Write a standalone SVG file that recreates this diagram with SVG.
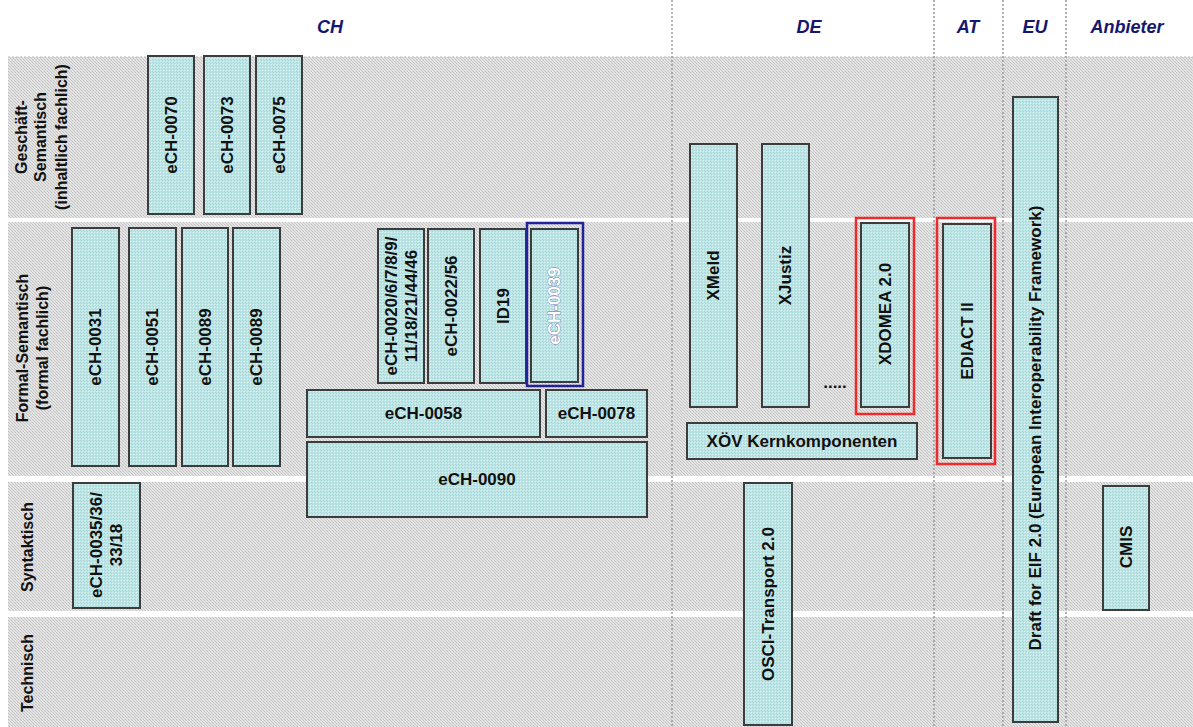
<svg xmlns="http://www.w3.org/2000/svg" width="1193" height="727" viewBox="0 0 1193 727">
<defs>
<pattern id="bandPat" width="3" height="3" patternUnits="userSpaceOnUse">
<rect width="3" height="3" fill="#e3e3e3"/>
<rect x="0" y="0" width="1" height="1" fill="#c4c4c4"/>
<rect x="1" y="1" width="1" height="1" fill="#cdcdcd"/>
<rect x="2" y="2" width="1" height="1" fill="#c4c4c4"/>
</pattern>
<pattern id="boxPat" width="3" height="3" patternUnits="userSpaceOnUse">
<rect width="3" height="3" fill="#bfe6e6"/>
<rect x="0" y="0" width="1" height="1" fill="#a9d6d6"/>
<rect x="1" y="1" width="1" height="1" fill="#dcf2f2"/>
<rect x="2" y="2" width="1" height="1" fill="#a9d6d6"/>
</pattern>
</defs>
<style>
.band{fill:url(#bandPat);}
.vline{stroke:#9a9a9a;stroke-width:1.5;stroke-dasharray:2 2;fill:none;}
.box{fill:url(#boxPat);stroke:#3c3c3c;stroke-width:2;}
.red{fill:none;stroke:#ee2a2a;stroke-width:2.5;}
.blue{fill:none;stroke:#22229a;stroke-width:2.5;}
.t{font-family:"Liberation Sans",Arial,sans-serif;font-weight:bold;font-size:17px;fill:#111;text-anchor:middle;dominant-baseline:central;}
.lbl{font-family:"Liberation Sans",Arial,sans-serif;font-weight:bold;font-size:16px;fill:#111;text-anchor:middle;dominant-baseline:central;}
.hdr{font-family:"Liberation Sans",Arial,sans-serif;font-weight:bold;font-style:italic;font-size:18px;fill:#16166e;text-anchor:middle;dominant-baseline:central;}
.wt{font-family:"Liberation Sans",Arial,sans-serif;font-weight:bold;font-size:17px;fill:#ffffff;stroke:#6f6fb0;stroke-width:0.8;paint-order:stroke;text-anchor:middle;dominant-baseline:central;}
</style>
<rect width="1193" height="727" fill="#ffffff"/>
<g id="bands">
<rect class="band" x="8" y="57" width="1185" height="161"/>
<rect class="band" x="8" y="222" width="1185" height="254"/>
<rect class="band" x="8" y="482" width="1185" height="129"/>
<rect class="band" x="8" y="617" width="1185" height="110"/>
<line x1="8" y1="57" x2="1193" y2="57" stroke="#b8b8b8" stroke-width="1" stroke-dasharray="2 2"/>
</g>
<g id="columns">
<line class="vline" x1="672" y1="0" x2="672" y2="727"/>
<line class="vline" x1="934" y1="0" x2="934" y2="727"/>
<line class="vline" x1="1003" y1="0" x2="1003" y2="727"/>
<line class="vline" x1="1066" y1="0" x2="1066" y2="727"/>
</g>
<g id="headers">
<text class="hdr" x="330" y="27">CH</text>
<text class="hdr" x="809" y="27">DE</text>
<text class="hdr" x="968" y="27">AT</text>
<text class="hdr" x="1035" y="27">EU</text>
<text class="hdr" x="1127" y="27">Anbieter</text>
</g>
<g id="row-labels">
<g transform="translate(40,137) rotate(-90)">
<text class="lbl" x="0" y="-19">Geschäft-</text>
<text class="lbl" x="0" y="0">Semantisch</text>
<text class="lbl" x="0" y="21">(inhaltlich fachlich)</text>
</g>
<g transform="translate(32,348) rotate(-90)">
<text class="lbl" x="0" y="-10">Formal-Semantisch</text>
<text class="lbl" x="0" y="10">(formal fachlich)</text>
</g>
<text class="lbl" transform="translate(27,547) rotate(-90)">Syntaktisch</text>
<text class="lbl" transform="translate(27,673) rotate(-90)">Technisch</text>
</g>
<g id="nodes">
<g id="ech0070"><rect class="box" x="148" y="56" width="46" height="158"/><text class="t" transform="translate(171,135) rotate(-90)">eCH-0070</text></g>
<g id="ech0073"><rect class="box" x="204" y="56" width="46" height="158"/><text class="t" transform="translate(227,135) rotate(-90)">eCH-0073</text></g>
<g id="ech0075"><rect class="box" x="256" y="56" width="46" height="158"/><text class="t" transform="translate(279,135) rotate(-90)">eCH-0075</text></g>
<g id="ech0031"><rect class="box" x="72" y="228" width="47" height="238"/><text class="t" transform="translate(95.5,347) rotate(-90)">eCH-0031</text></g>
<g id="ech0051"><rect class="box" x="129" y="228" width="47" height="238"/><text class="t" transform="translate(152.5,347) rotate(-90)">eCH-0051</text></g>
<g id="ech0089a"><rect class="box" x="182" y="228" width="46" height="238"/><text class="t" transform="translate(205,347) rotate(-90)">eCH-0089</text></g>
<g id="ech0089b"><rect class="box" x="233" y="228" width="47" height="238"/><text class="t" transform="translate(256.5,347) rotate(-90)">eCH-0089</text></g>
<g id="ech0020"><rect class="box" x="378" y="229" width="46" height="154"/>
<g transform="translate(401,306) rotate(-90)"><text class="t" x="0" y="-10">eCH-0020/6/7/8/9/</text><text class="t" x="0" y="10">11/18/21/44/46</text></g></g>
<g id="ech0022"><rect class="box" x="428" y="229" width="46" height="154"/><text class="t" transform="translate(451,306) rotate(-90)">eCH-0022/56</text></g>
<g id="id19"><rect class="box" x="480" y="229" width="46" height="154"/><text class="t" transform="translate(503,306) rotate(-90)">ID19</text></g>
<g id="ech0039"><rect class="box" x="531" y="229" width="47" height="153"/><rect class="blue" x="527" y="223" width="56" height="163"/><text class="wt" transform="translate(554.5,306) rotate(-90)">eCH-0039</text></g>
<g id="ech0058"><rect class="box" x="307" y="390" width="233" height="47"/><text class="t" x="423.5" y="413.5">eCH-0058</text></g>
<g id="ech0078"><rect class="box" x="546" y="390" width="101" height="47"/><text class="t" x="596.5" y="413.5">eCH-0078</text></g>
<g id="ech0090"><rect class="box" x="307" y="442" width="340" height="75"/><text class="t" x="477" y="479.5">eCH-0090</text></g>
<g id="ech0035"><rect class="box" x="73" y="483" width="67" height="125"/>
<g transform="translate(106.5,545) rotate(-90)"><text class="t" x="0" y="-10">eCH-0035/36/</text><text class="t" x="0" y="10">33/18</text></g></g>
<g id="xmeld"><rect class="box" x="690" y="144" width="47" height="263"/><text class="t" transform="translate(713.5,275.5) rotate(-90)">XMeld</text></g>
<g id="xjustiz"><rect class="box" x="762" y="144" width="47" height="263"/><text class="t" transform="translate(785.5,275.5) rotate(-90)">XJustiz</text></g>
<g id="dots"><text class="t" x="835" y="382">.....</text></g>
<g id="xdomea"><rect class="red" x="856" y="218" width="58" height="196"/><rect class="box" x="861" y="223" width="48" height="184"/><text class="t" transform="translate(885,314) rotate(-90)">XDOMEA 2.0</text></g>
<g id="xoev"><rect class="box" x="687" y="423" width="230" height="36"/><text class="t" x="802" y="441">XÖV Kernkomponenten</text></g>
<g id="ediact"><rect class="red" x="937" y="218" width="58" height="246"/><rect class="box" x="943" y="224" width="48" height="234"/><text class="t" transform="translate(967,341) rotate(-90)">EDIACT II</text></g>
<g id="osci"><rect class="box" x="744" y="483" width="48" height="242"/><text class="t" transform="translate(768,604) rotate(-90)">OSCI-Transport 2.0</text></g>
<g id="eif"><rect class="box" x="1013" y="97" width="45" height="625"/><text class="t" transform="translate(1035.5,428) rotate(-90)" textLength="445" lengthAdjust="spacingAndGlyphs">Draft for EIF 2.0 (European Interoperability Framework)</text></g>
<g id="cmis"><rect class="box" x="1103" y="486" width="46" height="124"/><text class="t" transform="translate(1126,547) rotate(-90)">CMIS</text></g>
</g>
</svg>
